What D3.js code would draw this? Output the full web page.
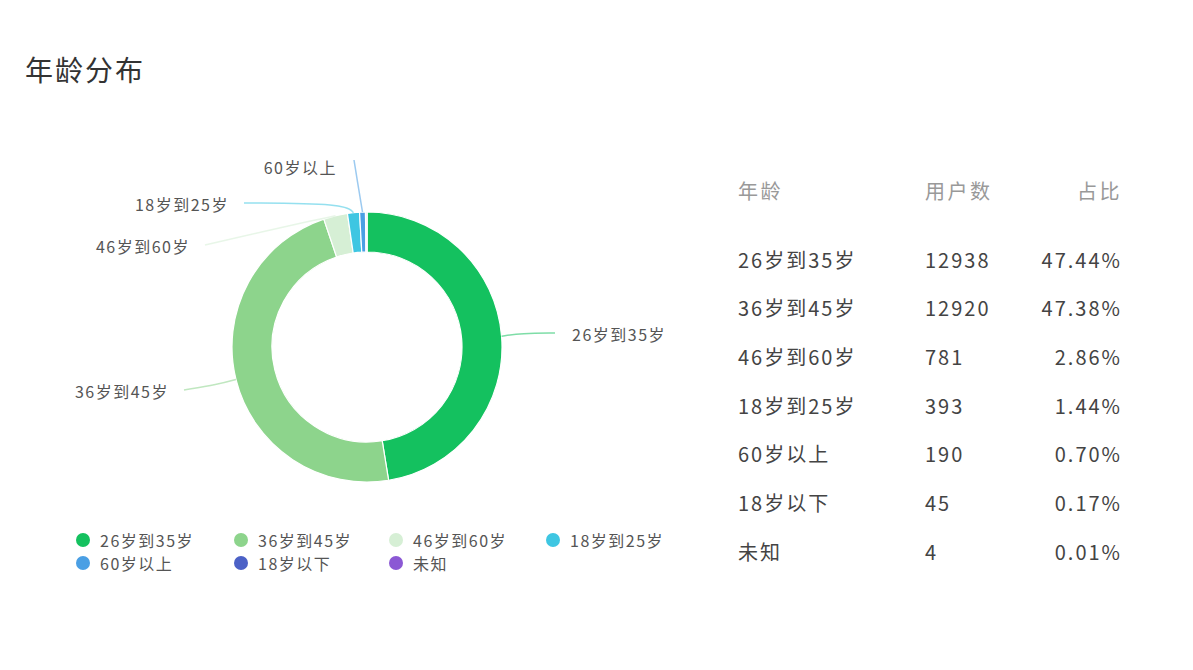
<!DOCTYPE html>
<html><head><meta charset="utf-8">
<script src="https://cdn.jsdelivr.net/npm/d3@7/dist/d3.min.js"></script>
<style>
html,body{margin:0;padding:0;background:#fff;}
svg{display:block;font-family:"Noto Sans CJK SC","Noto Sans",sans-serif;}
</style></head>
<body>
<svg id="c" width="1193" height="670"></svg>
<script>
const categories = ["26岁到35岁","36岁到45岁","46岁到60岁","18岁到25岁","60岁以上","18岁以下","未知"];
const userCounts = [12938,12920,781,393,190,45,4];
const shares = ["47.44%","47.38%","2.86%","1.44%","0.70%","0.17%","0.01%"];
const colors = ["#14c15f","#8dd48c","#d6efd5","#3ec6e2","#4a9fe4","#4c61c6","#8b58d4"];
const tableHeaders = ["年龄","用户数","占比"];
const title = "年龄分布";

// label layout (elbow offset from slice edge, label end point) — layout only
const labelLayout = {
  "26岁到35岁": {elbow:[20,-3], end:[555,333], anchor:"start"},
  "36岁到45岁": {elbow:[-18,5], end:[184,390], anchor:"end"},
  "46岁到60岁": {elbow:[-20,4], end:[205,245], anchor:"end"},
  "18岁到25岁": {elbow:[-8,-9], end:[244,203], anchor:"end"},
  "60岁以上":   {elbow:[-5,-30], end:[354,160], anchor:"end", text:[337,170]}
};

const svg = d3.select("#c");
svg.append("text").attr("x",25).attr("y",81).attr("font-size",28).attr("letter-spacing",2)
  .attr("fill","#333").text(title);

const cx = 367, cy = 347, rOuter = 135, rInner = 95;
const g = svg.append("g").attr("transform",`translate(${cx},${cy})`);
const data = categories.map((c,i)=>({name:c,value:userCounts[i],color:colors[i]}));
const pie = d3.pie().value(d=>d.value).sort(null);
const arcs = pie(data);
const arc = d3.arc().innerRadius(rInner).outerRadius(rOuter);
g.selectAll("path.slice").data(arcs).join("path")
  .attr("class","slice").attr("d",arc).attr("fill",d=>d.data.color)
  .attr("stroke","#fff").attr("stroke-width",1.2);

// labels
const curve = d3.line().curve(d3.curveBasis);
arcs.forEach(a=>{
  const L = labelLayout[a.data.name];
  if(!L) return;
  const mid = (a.startAngle+a.endAngle)/2;
  const p0 = [cx + rOuter*Math.sin(mid), cy - rOuter*Math.cos(mid)];
  const p1 = [p0[0]+L.elbow[0], p0[1]+L.elbow[1]];
  const p2 = L.end;
  svg.append("path").attr("d",curve([p0,p1,p2])).attr("fill","none")
    .attr("stroke",a.data.color).attr("stroke-opacity",0.55).attr("stroke-width",1.5);
  const tp = L.text || [p2[0] + (L.anchor==="start"?17:-15), p2[1]+4];
  svg.append("text").attr("x",tp[0]).attr("y",tp[1]).attr("text-anchor",L.anchor)
    .attr("dominant-baseline","middle").attr("font-size",16).attr("letter-spacing",1.5)
    .attr("fill","#555").text(a.data.name);
});

// legend
const legendCols = [83,241,396,553], legendRows=[540,563];
data.forEach((d,i)=>{
  const x = legendCols[i%4], y = legendRows[Math.floor(i/4)];
  svg.append("circle").attr("cx",x).attr("cy",y).attr("r",7).attr("fill",d.color);
  svg.append("text").attr("x",x+17).attr("y",y).attr("dominant-baseline","central")
    .attr("font-size",16).attr("letter-spacing",1.5).attr("fill","#555").text(d.name);
});

// table
const colX = [738,925,1122], colAnchor=["start","start","end"];
tableHeaders.forEach((h,i)=>{
  svg.append("text").attr("x",colX[i]).attr("y",190).attr("text-anchor",colAnchor[i])
    .attr("dominant-baseline","central").attr("font-size",20).attr("letter-spacing",2.5)
    .attr("fill","#999").text(h);
});
const rowY = d3.scalePoint().domain(categories).range([259,551]);
categories.forEach((c,i)=>{
  const vals=[c, String(userCounts[i]), shares[i]];
  vals.forEach((v,j)=>{
    svg.append("text").attr("x",colX[j]).attr("y",rowY(c)).attr("text-anchor",colAnchor[j])
      .attr("dominant-baseline","central").attr("font-size",20).attr("letter-spacing",2)
      .attr("fill","#444").text(v);
  });
});
</script>
</body></html>
